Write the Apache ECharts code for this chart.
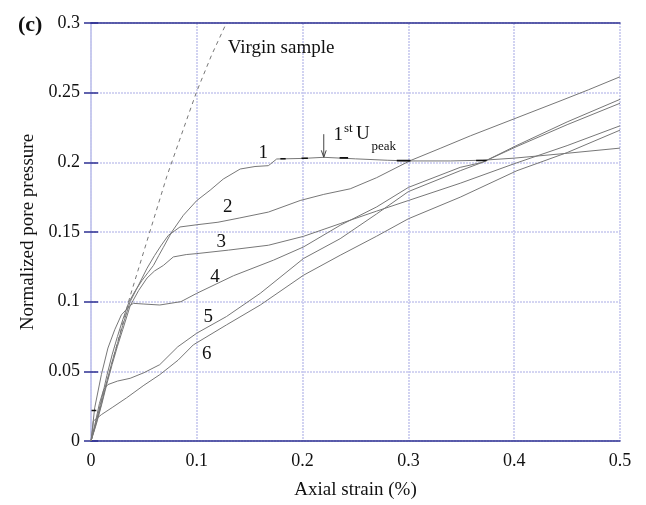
<!DOCTYPE html>
<html>
<head>
<meta charset="utf-8">
<script src="https://cdn.jsdelivr.net/npm/echarts@6/dist/echarts.min.js"></script>
<style>
  html, body { margin: 0; padding: 0; background: #fff; }
  #chart { width: 646px; height: 505px; }
</style>
</head>
<body>
<div id="chart"></div>
<script>
// Normalized pore pressure vs axial strain (%) for six reloading stages
const curve1 = [[0,0],[0.005,0.014],[0.01,0.03],[0.015,0.047],[0.02,0.062],[0.025,0.075],[0.03,0.087],[0.036,0.1],[0.042,0.108],[0.048,0.115],[0.054,0.121],[0.059,0.126],[0.064,0.133],[0.0684,0.139],[0.0763,0.15],[0.0873,0.162],[0.1,0.1726],[0.1126,0.18],[0.125,0.188],[0.141,0.1952],[0.155,0.197],[0.1676,0.1976],[0.17,0.199],[0.1755,0.2024],[0.2,0.2028],[0.22,0.2036],[0.25,0.2025],[0.28,0.2015],[0.3,0.201],[0.34,0.201],[0.37,0.2015],[0.4,0.203],[0.45,0.2065],[0.5,0.2102]];
const curve2 = [[0,0],[0.005,0.013],[0.01,0.027],[0.015,0.043],[0.02,0.057],[0.025,0.07],[0.03,0.083],[0.037,0.1],[0.045,0.112],[0.053,0.124],[0.06,0.133],[0.066,0.14],[0.0731,0.1476],[0.0841,0.1536],[0.1,0.1552],[0.12,0.157],[0.14,0.16],[0.1677,0.1643],[0.1977,0.1726],[0.22,0.177],[0.245,0.181],[0.27,0.189],[0.3017,0.2012],[0.33,0.21],[0.3585,0.219],[0.4026,0.232],[0.4433,0.244],[0.47,0.252],[0.5,0.2614]];
const curve3 = [[0,0],[0.005,0.012],[0.01,0.026],[0.015,0.041],[0.02,0.055],[0.025,0.068],[0.03,0.08],[0.037,0.097],[0.045,0.108],[0.053,0.117],[0.06,0.122],[0.0684,0.126],[0.0778,0.1321],[0.09,0.1338],[0.1,0.1345],[0.13,0.137],[0.1677,0.1405],[0.2009,0.1469],[0.2355,0.156],[0.27,0.165],[0.3,0.1726],[0.349,0.185],[0.4,0.199],[0.45,0.212],[0.5,0.2262]];
const curve4 = [[0,0],[0.0035,0.0238],[0.0098,0.0476],[0.016,0.0667],[0.0224,0.0798],[0.0287,0.0905],[0.0366,0.097],[0.04,0.0988],[0.05,0.0983],[0.065,0.0976],[0.085,0.1],[0.1,0.106],[0.1346,0.1186],[0.1725,0.1298],[0.2009,0.1393],[0.2355,0.1548],[0.27,0.168],[0.3,0.182],[0.349,0.1964],[0.37,0.2],[0.4026,0.2122],[0.45,0.229],[0.5,0.2452]];
const curve5 = [[0,0],[0.004,0.013],[0.008,0.027],[0.012,0.037],[0.016,0.0405],[0.025,0.043],[0.037,0.045],[0.05,0.049],[0.065,0.0548],[0.082,0.0676],[0.1,0.0774],[0.128,0.0893],[0.16,0.106],[0.2009,0.131],[0.2355,0.1452],[0.27,0.163],[0.3,0.179],[0.349,0.194],[0.37,0.2],[0.4026,0.2114],[0.45,0.227],[0.5,0.2424]];
const curve6 = [[0,0],[0.0015,0.008],[0.0022,0.0143],[0.01,0.019],[0.02,0.024],[0.0337,0.031],[0.05,0.04],[0.065,0.0476],[0.0823,0.058],[0.0967,0.069],[0.128,0.0833],[0.16,0.0976],[0.2009,0.119],[0.2355,0.1333],[0.27,0.147],[0.3,0.1595],[0.349,0.175],[0.4026,0.194],[0.45,0.207],[0.5,0.2231]];
const virginCurve = [[0,0],[0.0366,0.103],[0.0507,0.138],[0.0717,0.19],[0.0917,0.2333],[0.1,0.251],[0.114,0.277],[0.128,0.3]];

// short black segments along the curves: [strainStart, strainEnd, pressure]
const stageMarks = [[0.179,0.184,0.2026],[0.199,0.205,0.2029],[0.235,0.243,0.2032],[0.289,0.302,0.2012],[0.364,0.374,0.2013],[0.0005,0.005,0.0219]];

// curve numbers and their anchor points (strain, pressure)
const curveTags = ['1','2','3','4','5','6'];
const tagStrain = [0.1629,0.1293,0.1232,0.1172,0.1109,0.1094];
const tagLevel = [0.2064,0.1679,0.1431,0.1175,0.0893,0.0625];

// first peak annotation: shaft, then the two head strokes
const peakArrow = [[0.22,0.2202],[0.22,0.2036]];
const peakArrowHead = [[0.2177,0.2086],[0.22,0.2036],[0.2223,0.2086]];
const peakParts = [
  { text: '1', at: [0.2292,0.2195], size: 19 },
  { text: 'st', at: [0.2391,0.2245], size: 13 },
  { text: 'U', at: [0.2505,0.2202], size: 19 },
  { text: 'peak', at: [0.2651,0.2114], size: 13 }
];
const virginLabel = { text: 'Virgin sample', at: [0.1292,0.2818] };

const FONT = '"Liberation Serif", "Times New Roman", serif';
const NAVY = '#2e3192';
const GRID = '#c6c8ee';
const CURVE = '#777777';

const chart = echarts.init(document.getElementById('chart'), null, { renderer: 'canvas' });

const curves = [curve1, curve2, curve3, curve4, curve5, curve6];
const series = curves.map(d => ({
  type: 'line', data: d, showSymbol: false, silent: true, z: 3,
  lineStyle: { color: CURVE, width: 1 }
}));
series.push({
  type: 'line', data: virginCurve, showSymbol: false, silent: true, z: 3,
  lineStyle: { color: CURVE, width: 1, type: [4, 4] }
});
stageMarks.forEach(m => {
  series.push({
    type: 'line', data: [[m[0], m[2]], [m[1], m[2]]], showSymbol: false, silent: true, z: 4,
    lineStyle: { color: '#111', width: 1.6 }
  });
});
[peakArrow, peakArrowHead].forEach(d => {
  series.push({
    type: 'line', data: d, showSymbol: false, silent: true, z: 5,
    lineStyle: { color: '#444', width: 1 }
  });
});

const yAxisBase = {
  type: 'value', min: 0, max: 0.3, interval: 0.05,
  axisLine: { show: true, lineStyle: { color: GRID, width: 1.5 } },
  axisTick: { show: true, inside: true, length: 7, lineStyle: { color: NAVY, width: 1.5 } }
};

chart.setOption({
  animation: false,
  backgroundColor: '#fff',
  title: {
    text: '(c)', left: 13, top: 9,
    textStyle: { fontFamily: FONT, fontSize: 22, fontWeight: 'bold', color: '#111' }
  },
  grid: { left: 91, right: 26, top: 23, bottom: 62, containLabel: false },
  xAxis: [{
    type: 'value', min: 0, max: 0.5, interval: 0.1, position: 'bottom',
    name: 'Axial strain (%)', nameLocation: 'middle', nameGap: 40,
    nameTextStyle: { fontFamily: FONT, fontSize: 19, color: '#111' },
    axisLine: { show: true, onZero: false, lineStyle: { color: NAVY, width: 1.5 } },
    axisTick: { show: false },
    axisLabel: { fontFamily: FONT, fontSize: 18, color: '#111', margin: 11 },
    splitLine: { show: true, lineStyle: { color: GRID, width: 1.6, type: [2, 1] } }
  }, {
    type: 'value', min: 0, max: 0.5, interval: 0.1, position: 'top',
    axisLine: { show: true, onZero: false, lineStyle: { color: NAVY, width: 1.5 } },
    axisTick: { show: false }, axisLabel: { show: false }, splitLine: { show: false }
  }],
  yAxis: [Object.assign({}, yAxisBase, {
    position: 'left',
    name: 'Normalized pore pressure', nameLocation: 'middle', nameGap: 53,
    nameTextStyle: { fontFamily: FONT, fontSize: 19, color: '#111' },
    axisLabel: { fontFamily: FONT, fontSize: 18, color: '#111', margin: 11 },
    splitLine: { show: true, lineStyle: { color: GRID, width: 1.6, type: [2, 1] } }
  }), Object.assign({}, yAxisBase, {
    position: 'right',
    axisLabel: { show: false }, splitLine: { show: false }
  })],
  series: series
});

// text annotations placed from their data anchors
function textAt(text, at, size, align) {
  const p = chart.convertToPixel({ xAxisIndex: 0, yAxisIndex: 0 }, at);
  return {
    type: 'text', silent: true, z: 10,
    style: {
      text: text, x: p[0], y: p[1], fill: '#111',
      font: size + 'px ' + FONT,
      align: align, verticalAlign: 'middle',
      textAlign: align, textVerticalAlign: 'middle'
    }
  };
}
const graphics = [];
curveTags.forEach((t, i) => graphics.push(textAt(t, [tagStrain[i], tagLevel[i]], 19, 'center')));
peakParts.forEach(p => graphics.push(textAt(p.text, p.at, p.size, 'left')));
graphics.push(textAt(virginLabel.text, virginLabel.at, 19, 'left'));
chart.setOption({ graphic: graphics });
</script>
</body>
</html>
